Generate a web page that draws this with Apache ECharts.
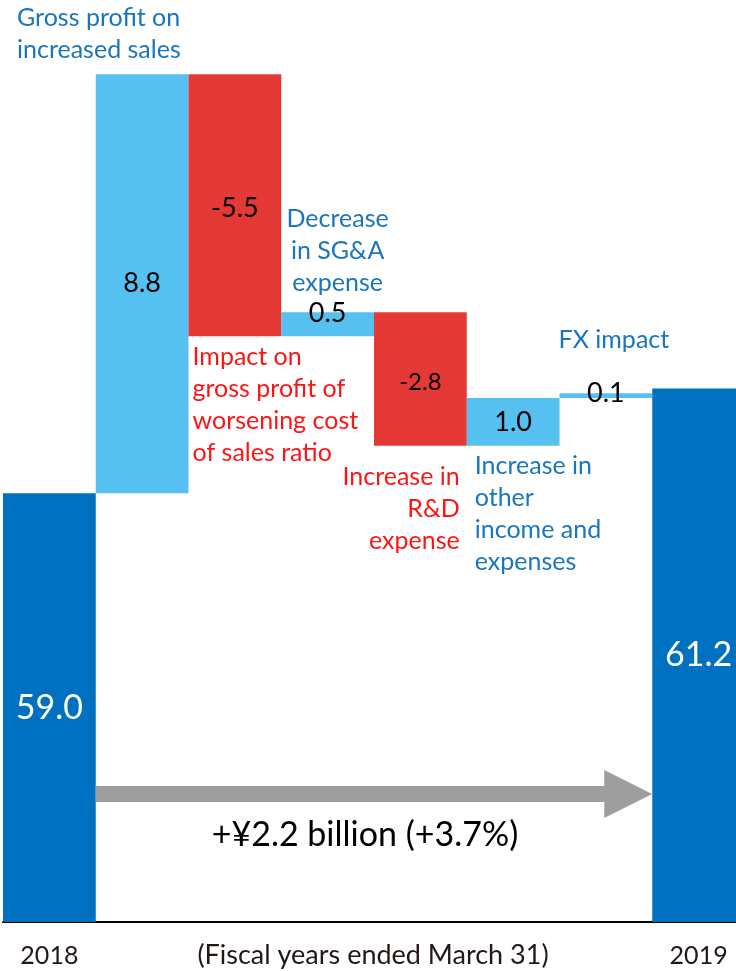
<!DOCTYPE html>
<html>
<head>
<meta charset="utf-8">
<script src="https://cdn.jsdelivr.net/npm/echarts@6/dist/echarts.min.js"></script>
<style>
  html, body { margin: 0; padding: 0; background: #fff; }
  #chart { width: 736px; height: 971px; }
</style>
</head>
<body>
<div id="chart"></div>
<script>
// Operating income bridge, FY2018 -> FY2019 (¥ billion)
const categories = [
  '2018',
  'Gross profit on increased sales',
  'Impact on gross profit of worsening cost of sales ratio',
  'Decrease in SG&A expense',
  'Increase in R&D expense',
  'Increase in other income and expenses',
  'FX impact',
  '2019'
];
const startValue = 59.0;
const endValue = 61.2;
const deltas = [8.8, -5.5, 0.5, -2.8, 1.0, 0.1];
const yearLabels = ['2018', '2019'];
const changeText = '+¥2.2 billion (+3.7%)';
const periodNote = '(Fiscal years ended March 31)';

// Annotation lines per step column
const noteLines = [
  ['Gross profit on', 'increased sales'],
  ['Impact on', 'gross profit of', 'worsening cost', 'of sales ratio'],
  ['Decrease', 'in SG&A', 'expense'],
  ['Increase in', 'R&D', 'expense'],
  ['Increase in', 'other', 'income and', 'expenses'],
  ['FX impact']
];

const FONT = 'Lato, "Noto Sans", sans-serif';
const C_TOTAL = '#0070C0';
const C_UP = '#56C1F0';
const C_DOWN = '#E53935';
const C_NOTE_BLUE = '#1B75BC';
const C_NOTE_RED = '#FF1414';

// Build the floating-bar stacks from the step values
const baseData = ['-'];
const upData = ['-'];
const downData = ['-'];
const totalData = [startValue];
let running = startValue;
deltas.forEach(d => {
  const next = running + d;
  baseData.push(+Math.min(running, next).toFixed(2));
  upData.push(d >= 0 ? d : '-');
  downData.push(d < 0 ? -d : '-');
  totalData.push('-');
  running = next;
});
baseData.push('-'); upData.push('-'); downData.push('-'); totalData.push(endValue);

const chart = echarts.init(document.getElementById('chart'));

const option = {
  animation: false,
  textStyle: { fontFamily: FONT },
  grid: { left: 3, right: -9, top: 17, bottom: 49, containLabel: false, outerBoundsMode: 'none' },
  xAxis: {
    type: 'category',
    data: categories,
    axisLine: { show: true, lineStyle: { color: '#000', width: 2 } },
    axisTick: { show: false },
    axisLabel: {
      margin: 21,
      fontSize: 25,
      color: '#231815',
      fontFamily: FONT,
      interval: 0,
      formatter: (v, i) => (i === 0 ? yearLabels[0] : i === categories.length - 1 ? yearLabels[1] : '')
    }
  },
  yAxis: {
    type: 'value',
    min: 50,
    max: 69,
    show: false,
    splitLine: { show: false }
  },
  series: [
    {
      name: 'base',
      type: 'bar',
      stack: 'w',
      barCategoryGap: '0%',
      itemStyle: { color: 'transparent' },
      emphasis: { disabled: true },
      data: baseData
    },
    {
      name: 'increase',
      type: 'bar',
      stack: 'w',
      barCategoryGap: '0%',
      itemStyle: { color: C_UP },
      label: {
        show: true,
        position: 'inside',
        color: '#000',
        fontSize: 27,
        fontFamily: FONT,
        formatter: p => p.value.toFixed(1)
      },
      data: upData.map((v, i) => (i === 3 ? { value: v, label: { offset: [0, -11] } } : (i === 6 ? { value: v, label: { offset: [0, -2] } } : v)))
    },
    {
      name: 'decrease',
      type: 'bar',
      stack: 'w',
      barCategoryGap: '0%',
      itemStyle: { color: C_DOWN },
      label: {
        show: true,
        position: 'inside',
        color: '#000',
        fontSize: 27,
        fontFamily: FONT,
        formatter: p => '-' + p.value.toFixed(1)
      },
      data: downData.map((v, i) => (i === 4 ? { value: v, label: { fontSize: 24, offset: [0, 3] } } : (i === 2 ? { value: v, label: { offset: [0, 3] } } : v)))
    },
    {
      name: 'total',
      type: 'bar',
      stack: 'w',
      barCategoryGap: '0%',
      itemStyle: { color: C_TOTAL },
      label: {
        show: true,
        position: 'inside',
        color: '#fff',
        fontSize: 34,
        fontFamily: FONT,
        formatter: p => p.value.toFixed(1)
      },
      data: totalData
    }
  ]
};

chart.setOption(option);

// Overlay annotations and the change arrow, anchored to the bar geometry
function colX(i) { return chart.convertToPixel({ xAxisIndex: 0 }, i); }
function valY(v) { return chart.convertToPixel({ yAxisIndex: 0 }, v); }
const band = colX(1) - colX(0);
const colLeft = i => colX(i) - band / 2;
const colRight = i => colX(i) + band / 2;

// step tops/bottoms in value space
const stepTop = [], stepBottom = [];
running = startValue;
deltas.forEach(d => {
  stepTop.push(Math.max(running, running + d));
  stepBottom.push(Math.min(running, running + d));
  running += d;
});

const LH = 32;
function note(lines, color, x, y, align, vAlign) {
  const h = lines.length * LH;
  const top = vAlign === 'bottom' ? y - h : y;
  return {
    type: 'text',
    z: 10,
    style: {
      text: lines.join('\n'),
      x: x,
      y: top,
      fill: color,
      fontSize: 25,
      fontFamily: FONT,
      lineHeight: LH,
      align: align,
      verticalAlign: 'top'
    }
  };
}

const graphics = [
  note(noteLines[0], C_NOTE_BLUE, colLeft(0) + 14, valY(stepTop[0]) - 8, 'left', 'bottom'),
  note(noteLines[1], C_NOTE_RED, colLeft(2) + 4, valY(stepBottom[1]) + 5, 'left', 'top'),
  note(noteLines[2], C_NOTE_BLUE, colX(3) + 10, valY(stepTop[2]) - 13, 'center', 'bottom'),
  note(noteLines[3], C_NOTE_RED, colRight(4) - 7, valY(stepBottom[3]) + 15, 'right', 'top'),
  note(noteLines[4], C_NOTE_BLUE, colLeft(5) + 8, valY(stepBottom[4]) + 4, 'left', 'top'),
  note(noteLines[5], C_NOTE_BLUE, colX(6) + 8, valY(stepTop[5]) - 37, 'center', 'bottom')
];

// Arrow from the 2018 bar to the 2019 bar
const ax0 = colRight(0);
const ax1 = colLeft(categories.length - 1);
const ay = 794;
const headLen = 48, headHalf = 24, shaftHalf = 8;
graphics.push({
  type: 'polygon',
  z: 5,
  shape: {
    points: [
      [ax0, ay - shaftHalf], [ax1 - headLen, ay - shaftHalf], [ax1 - headLen, ay - headHalf],
      [ax1, ay], [ax1 - headLen, ay + headHalf], [ax1 - headLen, ay + shaftHalf], [ax0, ay + shaftHalf]
    ]
  },
  style: { fill: '#9E9E9E' }
});
graphics.push({
  type: 'text',
  z: 10,
  style: {
    text: changeText,
    x: (ax0 + ax1) / 2 - 9,
    y: 835,
    fill: '#000',
    fontSize: 34,
    fontFamily: FONT,
    align: 'center',
    verticalAlign: 'middle'
  }
});
graphics.push({
  type: 'text',
  z: 10,
  style: {
    text: periodNote,
    x: (ax0 + ax1) / 2 - 1,
    y: 955,
    fill: '#231815',
    fontSize: 27,
    fontFamily: FONT,
    align: 'center',
    verticalAlign: 'middle'
  }
});

chart.setOption({ graphic: graphics });
</script>
</body>
</html>
